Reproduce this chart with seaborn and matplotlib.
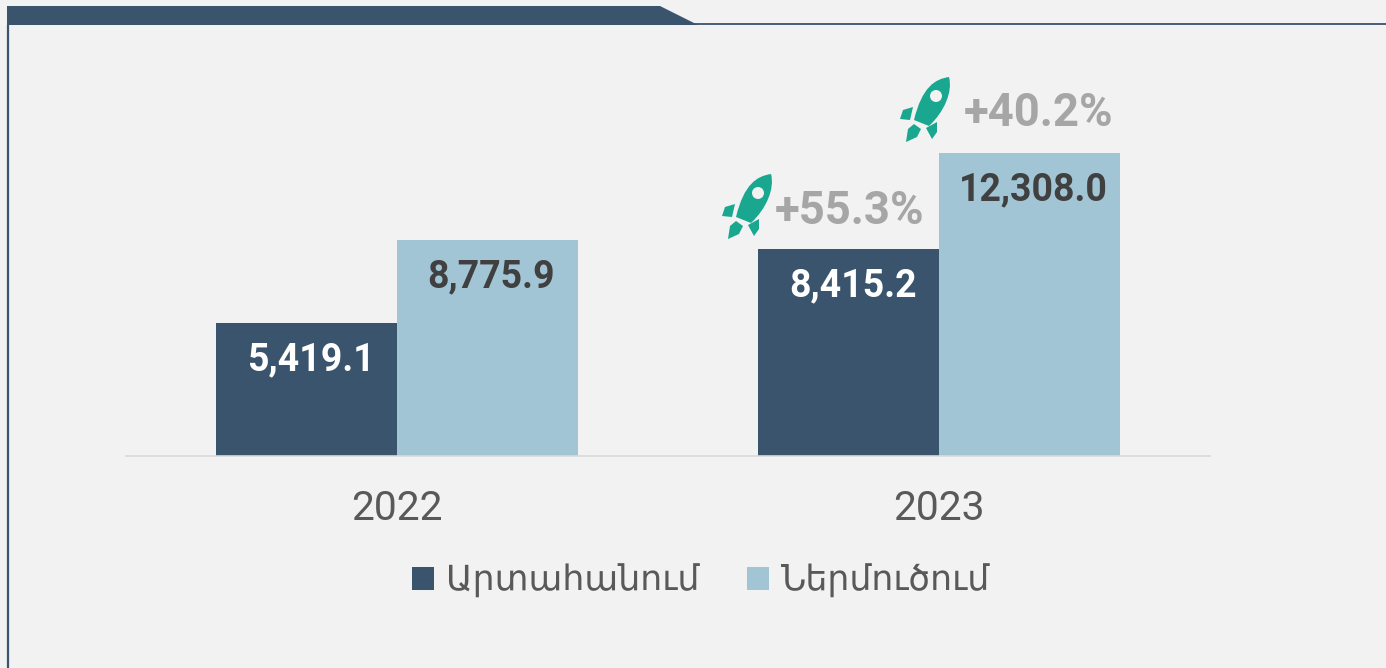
import matplotlib
matplotlib.use('Agg')
import matplotlib.pyplot as plt
import pandas as pd
import seaborn as sns
from matplotlib.patches import PathPatch, Polygon, Circle
from matplotlib.path import Path

# Data
years = ['2022', '2023']
exports = [5419.1, 8415.2]
imports = [8775.9, 12308.0]
export_label = 'Արտահանում'
import_label = 'Ներմուծում'
export_growth = '+55.3%'
import_growth = '+40.2%'

DARK = '#3a546d'
LIGHT = '#a2c5d6'
BG = '#f2f2f2'
GREY = '#a6a6a6'
TEAL = '#1aa78f'
PX = 0.72  # points per pixel at dpi 100

sns.set_theme(style='white')
plt.rcParams['font.family'] = ['Roboto', 'DejaVu Sans']

W, H = 1386, 668
fig = plt.figure(figsize=(W / 100, H / 100), dpi=100, facecolor=BG)

# Chart axes: plot area runs x 126-1210, baseline at y=456
ax = fig.add_axes([126 / W, 1 - 456 / H, (1210 - 126) / W, 400 / H])
ax.set_facecolor('none')

df = pd.DataFrame({
    'year': years * 2,
    'value': exports + imports,
    'kind': [export_label] * len(years) + [import_label] * len(years),
})
sns.barplot(data=df, x='year', y='value', hue='kind', palette=[DARK, LIGHT],
            width=0.667, gap=0, saturation=1, linewidth=0, ax=ax)

ax.set_xlim(-0.5, 1.5)
ax.set_ylim(0, 12308.0 * 400 / 303)
ax.set_xlabel('')
ax.set_ylabel('')
ax.set_yticks([])
sns.despine(ax=ax, left=True)
ax.spines['bottom'].set_color('#d9d9d9')
ax.spines['bottom'].set_linewidth(1.2)
ax.tick_params(axis='x', length=0, pad=24, labelsize=29.3, labelcolor='#595959')

# Value labels inside the bars, growth labels above the 2023 bars
growth = [export_growth, import_growth]
growth_dx = [1, 9]
growth_dy = [38, 40]
for k, container in enumerate(ax.containers):
    for bar, val in zip(container.patches, (exports, imports)[k]):
        cx = bar.get_x() + bar.get_width() / 2
        ax.annotate(f'{val:,.1f}', (cx, val), xytext=(4 * PX, -37 * PX),
                    textcoords='offset points', ha='center', va='center',
                    fontsize=27, fontweight='bold',
                    color='white' if k == 0 else '#404040')
    last = container.patches[-1]
    ax.annotate(growth[k], (last.get_x() + last.get_width() / 2, last.get_height()),
                xytext=(growth_dx[k] * PX, growth_dy[k] * PX), textcoords='offset points',
                ha='center', va='center', fontsize=32.8, fontweight='bold', color=GREY)

# Legend
ax.legend(loc='center', bbox_to_anchor=(701 / W, 1 - 581 / H),
          bbox_transform=fig.transFigure, ncol=2, frameon=False,
          fontsize=25, labelcolor='#595959', handlelength=0.63, handleheight=0.66,
          handletextpad=0.35, columnspacing=1.38, borderpad=0)

# Overlay in pixel coordinates for the frame and the rocket icons
deco = fig.add_axes([0, 0, 1, 1], zorder=3)
deco.set_xlim(0, W)
deco.set_ylim(H, 0)
deco.axis('off')
deco.patch.set_alpha(0)

deco.add_patch(Polygon([(7, 6), (660, 6), (698, 25), (7, 25)], closed=True, fc=DARK, ec='none'))
deco.plot([8, 8], [25, H], color=DARK, lw=1.6, solid_capstyle='butt')
deco.plot([690, W], [24, 24], color=DARK, lw=1.3, solid_capstyle='butt')


def rocket(tip_x, tip_y):
    # shapes traced relative to the nose of the icon
    body = Path(
        [(0, 0), (-14, 2), (-27, 10), (-35, 43), (-20, 49), (-5, 35), (4, 15), (0, 0), (0, 0)],
        [Path.MOVETO, Path.CURVE4, Path.CURVE4, Path.CURVE4, Path.LINETO,
         Path.CURVE4, Path.CURVE4, Path.CURVE4, Path.CLOSEPOLY])
    fins = [
        [(-49, 42), (-46, 33), (-36, 30), (-39, 43)],
        [(-43, 65), (-41, 52), (-35, 47), (-28, 52), (-32, 60)],
        [(-23, 51), (-12, 45), (-12, 55), (-17, 62)],
    ]
    moved = Path(body.vertices + (tip_x, tip_y), body.codes)
    deco.add_patch(PathPatch(moved, fc=TEAL, ec='none'))
    for fin in fins:
        deco.add_patch(Polygon([(x + tip_x, y + tip_y) for x, y in fin], closed=True, fc=TEAL, ec='none'))
    deco.add_patch(Circle((tip_x - 13, tip_y + 19), 6, fc=BG, ec='none'))


rocket(771, 174)
rocket(949, 77)

fig.savefig('out.png', dpi=100, facecolor=BG)
